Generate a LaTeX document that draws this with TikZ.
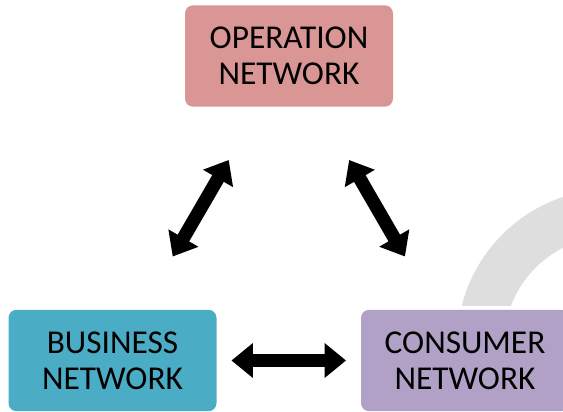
\documentclass[tikz,border=0pt]{standalone}
\usepackage{fontspec}
\setmainfont{Carlito}
\usetikzlibrary{arrows.meta}
\definecolor{opfill}{HTML}{D99694}
\definecolor{busfill}{HTML}{4BACC6}
\definecolor{confill}{HTML}{B2A1C7}
\definecolor{ringgray}{HTML}{DEDEDE}
\newcommand\netbox[4]{\node[netnode, fill=#3] (#1) at #2 {#4} ; }

\begin{document}
\begin{tikzpicture}[x=0.75pt, y=-0.75pt,
    netnode/.style={rounded corners=6pt, minimum width=156pt, minimum height=76pt,
        inner sep=0pt, align=center, font=\fontsize{25}{27}\selectfont},
    link/.style={line width=10pt, shorten <=#1, shorten >=#1,
        {Triangle[length=16pt,width=25pt]}-{Triangle[length=16pt,width=25pt]}}]
    \useasboundingbox (0,0) rectangle (563,411);
    \clip (0,0) rectangle (563,411);

    % grey ring behind consumer
    \begin{scope}
        \clip (440,180) rectangle (563,305);
        \fill [ringgray, even odd rule] (612,344) circle (116.25pt) (612,344) circle (81pt);
    \end{scope}

    % the three networks
    \netbox{op}{(289,56)}{opfill}{OPERATION\\NETWORK}
    \netbox{bus}{(112.5,360.5)}{busfill}{BUSINESS\\NETWORK}
    \netbox{con}{(465,360.5)}{confill}{CONSUMER\\NETWORK}

    % links between them
    \draw [link=46pt] (op) -- (bus);
    \draw [link=46pt] (op) -- (con);
    \draw [link=11pt] (bus) -- (con);
\end{tikzpicture}
\end{document}
